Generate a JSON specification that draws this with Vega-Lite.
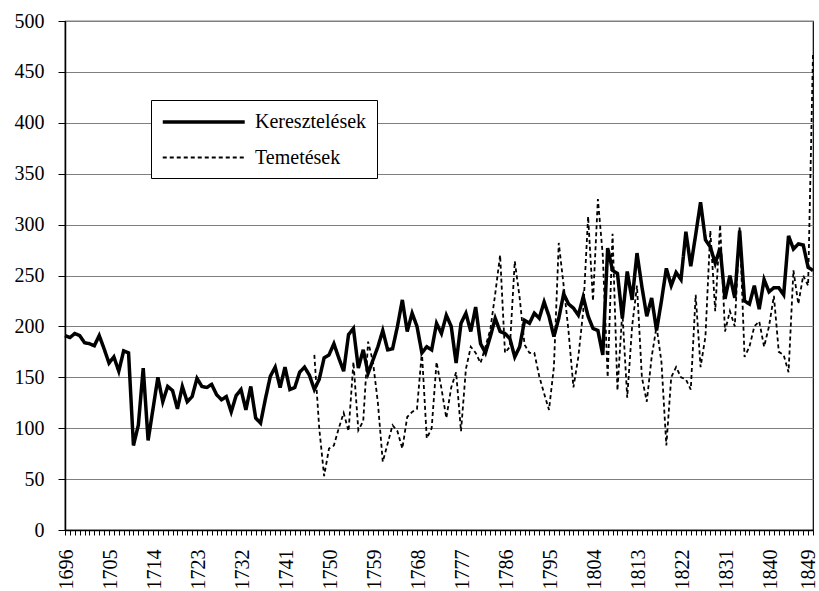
{
  "$schema": "https://vega.github.io/schema/vega-lite/v6.json",
  "width": 748,
  "height": 509,
  "autosize": {"type": "none"},
  "padding": {"left": 65, "top": 21, "right": 6, "bottom": 61},
  "background": "white",
  "config": {
    "view": {"stroke": "black", "strokeWidth": 1.2},
    "font": "Liberation Serif"
  },
  "data": {
    "values": [
      {"year":1696,"series":"Keresztelések","value":191},{"year":1697,"series":"Keresztelések","value":189},{"year":1698,"series":"Keresztelések","value":193},{"year":1699,"series":"Keresztelések","value":191},{"year":1700,"series":"Keresztelések","value":184},{"year":1701,"series":"Keresztelések","value":183},{"year":1702,"series":"Keresztelések","value":181},{"year":1703,"series":"Keresztelések","value":191},{"year":1704,"series":"Keresztelések","value":178},{"year":1705,"series":"Keresztelések","value":164},{"year":1706,"series":"Keresztelések","value":170},{"year":1707,"series":"Keresztelések","value":156},{"year":1708,"series":"Keresztelések","value":176},{"year":1709,"series":"Keresztelések","value":174},{"year":1710,"series":"Keresztelések","value":83},{"year":1711,"series":"Keresztelések","value":103},{"year":1712,"series":"Keresztelések","value":159},{"year":1713,"series":"Keresztelések","value":88},{"year":1714,"series":"Keresztelések","value":119},{"year":1715,"series":"Keresztelések","value":150},{"year":1716,"series":"Keresztelések","value":126},{"year":1717,"series":"Keresztelések","value":141},{"year":1718,"series":"Keresztelések","value":137},{"year":1719,"series":"Keresztelések","value":119},{"year":1720,"series":"Keresztelések","value":141},{"year":1721,"series":"Keresztelések","value":126},{"year":1722,"series":"Keresztelések","value":131},{"year":1723,"series":"Keresztelések","value":149},{"year":1724,"series":"Keresztelések","value":141},{"year":1725,"series":"Keresztelések","value":140},{"year":1726,"series":"Keresztelések","value":143},{"year":1727,"series":"Keresztelések","value":133},{"year":1728,"series":"Keresztelések","value":128},{"year":1729,"series":"Keresztelések","value":131},{"year":1730,"series":"Keresztelések","value":116},{"year":1731,"series":"Keresztelések","value":132},{"year":1732,"series":"Keresztelések","value":138},{"year":1733,"series":"Keresztelések","value":118},{"year":1734,"series":"Keresztelések","value":141},{"year":1735,"series":"Keresztelések","value":110},{"year":1736,"series":"Keresztelések","value":105},{"year":1737,"series":"Keresztelések","value":129},{"year":1738,"series":"Keresztelések","value":151},{"year":1739,"series":"Keresztelések","value":160},{"year":1740,"series":"Keresztelések","value":140},{"year":1741,"series":"Keresztelések","value":160},{"year":1742,"series":"Keresztelések","value":138},{"year":1743,"series":"Keresztelések","value":140},{"year":1744,"series":"Keresztelések","value":155},{"year":1745,"series":"Keresztelések","value":160},{"year":1746,"series":"Keresztelések","value":152},{"year":1747,"series":"Keresztelések","value":138},{"year":1748,"series":"Keresztelések","value":148},{"year":1749,"series":"Keresztelések","value":169},{"year":1750,"series":"Keresztelések","value":172},{"year":1751,"series":"Keresztelések","value":183},{"year":1752,"series":"Keresztelések","value":169},{"year":1753,"series":"Keresztelések","value":156},{"year":1754,"series":"Keresztelések","value":192},{"year":1755,"series":"Keresztelések","value":198},{"year":1756,"series":"Keresztelések","value":159},{"year":1757,"series":"Keresztelések","value":177},{"year":1758,"series":"Keresztelések","value":154},{"year":1759,"series":"Keresztelések","value":167},{"year":1760,"series":"Keresztelések","value":180},{"year":1761,"series":"Keresztelések","value":196},{"year":1762,"series":"Keresztelések","value":177},{"year":1763,"series":"Keresztelések","value":178},{"year":1764,"series":"Keresztelések","value":200},{"year":1765,"series":"Keresztelések","value":226},{"year":1766,"series":"Keresztelések","value":195},{"year":1767,"series":"Keresztelések","value":213},{"year":1768,"series":"Keresztelések","value":200},{"year":1769,"series":"Keresztelések","value":174},{"year":1770,"series":"Keresztelések","value":180},{"year":1771,"series":"Keresztelések","value":177},{"year":1772,"series":"Keresztelések","value":203},{"year":1773,"series":"Keresztelések","value":193},{"year":1774,"series":"Keresztelések","value":211},{"year":1775,"series":"Keresztelések","value":200},{"year":1776,"series":"Keresztelések","value":164},{"year":1777,"series":"Keresztelések","value":203},{"year":1778,"series":"Keresztelések","value":213},{"year":1779,"series":"Keresztelések","value":195},{"year":1780,"series":"Keresztelések","value":219},{"year":1781,"series":"Keresztelések","value":183},{"year":1782,"series":"Keresztelések","value":174},{"year":1783,"series":"Keresztelések","value":190},{"year":1784,"series":"Keresztelések","value":208},{"year":1785,"series":"Keresztelések","value":195},{"year":1786,"series":"Keresztelések","value":193},{"year":1787,"series":"Keresztelések","value":188},{"year":1788,"series":"Keresztelések","value":170},{"year":1789,"series":"Keresztelések","value":180},{"year":1790,"series":"Keresztelések","value":206},{"year":1791,"series":"Keresztelések","value":203},{"year":1792,"series":"Keresztelések","value":213},{"year":1793,"series":"Keresztelések","value":208},{"year":1794,"series":"Keresztelések","value":224},{"year":1795,"series":"Keresztelések","value":210},{"year":1796,"series":"Keresztelések","value":190},{"year":1797,"series":"Keresztelések","value":208},{"year":1798,"series":"Keresztelések","value":232},{"year":1799,"series":"Keresztelések","value":222},{"year":1800,"series":"Keresztelések","value":218},{"year":1801,"series":"Keresztelések","value":211},{"year":1802,"series":"Keresztelések","value":229},{"year":1803,"series":"Keresztelések","value":210},{"year":1804,"series":"Keresztelések","value":198},{"year":1805,"series":"Keresztelések","value":196},{"year":1806,"series":"Keresztelések","value":172},{"year":1807,"series":"Keresztelések","value":277},{"year":1808,"series":"Keresztelések","value":255},{"year":1809,"series":"Keresztelések","value":252},{"year":1810,"series":"Keresztelések","value":208},{"year":1811,"series":"Keresztelések","value":254},{"year":1812,"series":"Keresztelések","value":226},{"year":1813,"series":"Keresztelések","value":272},{"year":1814,"series":"Keresztelések","value":239},{"year":1815,"series":"Keresztelések","value":210},{"year":1816,"series":"Keresztelések","value":228},{"year":1817,"series":"Keresztelések","value":196},{"year":1818,"series":"Keresztelések","value":225},{"year":1819,"series":"Keresztelések","value":257},{"year":1820,"series":"Keresztelések","value":240},{"year":1821,"series":"Keresztelések","value":253},{"year":1822,"series":"Keresztelések","value":246},{"year":1823,"series":"Keresztelések","value":293},{"year":1824,"series":"Keresztelések","value":259},{"year":1825,"series":"Keresztelések","value":290},{"year":1826,"series":"Keresztelések","value":322},{"year":1827,"series":"Keresztelések","value":285},{"year":1828,"series":"Keresztelések","value":278},{"year":1829,"series":"Keresztelések","value":262},{"year":1830,"series":"Keresztelések","value":277},{"year":1831,"series":"Keresztelések","value":227},{"year":1832,"series":"Keresztelések","value":250},{"year":1833,"series":"Keresztelések","value":228},{"year":1834,"series":"Keresztelések","value":294},{"year":1835,"series":"Keresztelések","value":225},{"year":1836,"series":"Keresztelések","value":222},{"year":1837,"series":"Keresztelések","value":240},{"year":1838,"series":"Keresztelések","value":217},{"year":1839,"series":"Keresztelések","value":246},{"year":1840,"series":"Keresztelések","value":234},{"year":1841,"series":"Keresztelések","value":238},{"year":1842,"series":"Keresztelések","value":238},{"year":1843,"series":"Keresztelések","value":231},{"year":1844,"series":"Keresztelések","value":289},{"year":1845,"series":"Keresztelések","value":276},{"year":1846,"series":"Keresztelések","value":281},{"year":1847,"series":"Keresztelések","value":280},{"year":1848,"series":"Keresztelések","value":258},{"year":1849,"series":"Keresztelések","value":255},
      {"year":1747,"series":"Temetések","value":172},{"year":1748,"series":"Temetések","value":100},{"year":1749,"series":"Temetések","value":53},{"year":1750,"series":"Temetések","value":80},{"year":1751,"series":"Temetések","value":83},{"year":1752,"series":"Temetések","value":100},{"year":1753,"series":"Temetések","value":115},{"year":1754,"series":"Temetések","value":97},{"year":1755,"series":"Temetések","value":165},{"year":1756,"series":"Temetések","value":98},{"year":1757,"series":"Temetések","value":107},{"year":1758,"series":"Temetések","value":185},{"year":1759,"series":"Temetések","value":165},{"year":1760,"series":"Temetések","value":125},{"year":1761,"series":"Temetések","value":67},{"year":1762,"series":"Temetések","value":85},{"year":1763,"series":"Temetések","value":103},{"year":1764,"series":"Temetések","value":97},{"year":1765,"series":"Temetések","value":80},{"year":1766,"series":"Temetések","value":111},{"year":1767,"series":"Temetések","value":116},{"year":1768,"series":"Temetések","value":119},{"year":1769,"series":"Temetések","value":175},{"year":1770,"series":"Temetések","value":90},{"year":1771,"series":"Temetések","value":100},{"year":1772,"series":"Temetések","value":165},{"year":1773,"series":"Temetések","value":139},{"year":1774,"series":"Temetések","value":110},{"year":1775,"series":"Temetések","value":140},{"year":1776,"series":"Temetések","value":155},{"year":1777,"series":"Temetések","value":97},{"year":1778,"series":"Temetések","value":158},{"year":1779,"series":"Temetések","value":180},{"year":1780,"series":"Temetések","value":174},{"year":1781,"series":"Temetések","value":164},{"year":1782,"series":"Temetések","value":180},{"year":1783,"series":"Temetések","value":197},{"year":1784,"series":"Temetések","value":232},{"year":1785,"series":"Temetések","value":270},{"year":1786,"series":"Temetések","value":174},{"year":1787,"series":"Temetések","value":180},{"year":1788,"series":"Temetések","value":264},{"year":1789,"series":"Temetések","value":228},{"year":1790,"series":"Temetések","value":182},{"year":1791,"series":"Temetések","value":174},{"year":1792,"series":"Temetések","value":174},{"year":1793,"series":"Temetések","value":151},{"year":1794,"series":"Temetések","value":134},{"year":1795,"series":"Temetések","value":118},{"year":1796,"series":"Temetések","value":160},{"year":1797,"series":"Temetések","value":282},{"year":1798,"series":"Temetések","value":240},{"year":1799,"series":"Temetések","value":195},{"year":1800,"series":"Temetések","value":140},{"year":1801,"series":"Temetések","value":170},{"year":1802,"series":"Temetések","value":215},{"year":1803,"series":"Temetések","value":308},{"year":1804,"series":"Temetések","value":225},{"year":1805,"series":"Temetések","value":325},{"year":1806,"series":"Temetések","value":270},{"year":1807,"series":"Temetések","value":150},{"year":1808,"series":"Temetések","value":291},{"year":1809,"series":"Temetések","value":137},{"year":1810,"series":"Temetések","value":215},{"year":1811,"series":"Temetések","value":130},{"year":1812,"series":"Temetések","value":200},{"year":1813,"series":"Temetések","value":240},{"year":1814,"series":"Temetések","value":150},{"year":1815,"series":"Temetések","value":126},{"year":1816,"series":"Temetések","value":170},{"year":1817,"series":"Temetések","value":200},{"year":1818,"series":"Temetések","value":165},{"year":1819,"series":"Temetések","value":83},{"year":1820,"series":"Temetések","value":150},{"year":1821,"series":"Temetések","value":160},{"year":1822,"series":"Temetések","value":150},{"year":1823,"series":"Temetések","value":148},{"year":1824,"series":"Temetések","value":138},{"year":1825,"series":"Temetések","value":231},{"year":1826,"series":"Temetések","value":160},{"year":1827,"series":"Temetések","value":190},{"year":1828,"series":"Temetések","value":294},{"year":1829,"series":"Temetések","value":215},{"year":1830,"series":"Temetések","value":300},{"year":1831,"series":"Temetések","value":195},{"year":1832,"series":"Temetések","value":215},{"year":1833,"series":"Temetések","value":200},{"year":1834,"series":"Temetések","value":298},{"year":1835,"series":"Temetések","value":170},{"year":1836,"series":"Temetések","value":180},{"year":1837,"series":"Temetések","value":200},{"year":1838,"series":"Temetések","value":205},{"year":1839,"series":"Temetések","value":180},{"year":1840,"series":"Temetések","value":200},{"year":1841,"series":"Temetések","value":230},{"year":1842,"series":"Temetések","value":175},{"year":1843,"series":"Temetések","value":172},{"year":1844,"series":"Temetések","value":155},{"year":1845,"series":"Temetések","value":255},{"year":1846,"series":"Temetések","value":222},{"year":1847,"series":"Temetések","value":250},{"year":1848,"series":"Temetések","value":240},{"year":1849,"series":"Temetések","value":468}
    ]
  },
  "mark": {"type": "line", "color": "black", "strokeCap": "butt", "strokeJoin": "miter"},
  "encoding": {
    "x": {
      "field": "year", "type": "quantitative",
      "scale": {"domain": [1696, 1849], "nice": false, "zero": false},
      "axis": {
        "title": null,
        "values": [1696,1697,1698,1699,1700,1701,1702,1703,1704,1705,1706,1707,1708,1709,1710,1711,1712,1713,1714,1715,1716,1717,1718,1719,1720,1721,1722,1723,1724,1725,1726,1727,1728,1729,1730,1731,1732,1733,1734,1735,1736,1737,1738,1739,1740,1741,1742,1743,1744,1745,1746,1747,1748,1749,1750,1751,1752,1753,1754,1755,1756,1757,1758,1759,1760,1761,1762,1763,1764,1765,1766,1767,1768,1769,1770,1771,1772,1773,1774,1775,1776,1777,1778,1779,1780,1781,1782,1783,1784,1785,1786,1787,1788,1789,1790,1791,1792,1793,1794,1795,1796,1797,1798,1799,1800,1801,1802,1803,1804,1805,1806,1807,1808,1809,1810,1811,1812,1813,1814,1815,1816,1817,1818,1819,1820,1821,1822,1823,1824,1825,1826,1827,1828,1829,1830,1831,1832,1833,1834,1835,1836,1837,1838,1839,1840,1841,1842,1843,1844,1845,1846,1847,1848,1849],
        "labelExpr": "(datum.value - 1696) % 9 === 0 ? '' + datum.value : ''",
        "labelAngle": -90,
        "labelFont": "Liberation Serif",
        "labelFontSize": 20,
        "labelColor": "black",
        "labelPadding": 14,
        "labelOffset": {"condition": {"test": "datum.value === 1849", "value": -5}, "value": 1},
        "labelOverlap": false,
        "labelFlush": false,
        "labelBound": false,
        "grid": false,
        "domainColor": "black",
        "domainWidth": 1.5,
        "tickColor": "black",
        "tickSize": 5,
        "tickWidth": 1
      }
    },
    "y": {
      "field": "value", "type": "quantitative",
      "scale": {"domain": [0, 500], "nice": false},
      "axis": {
        "title": null,
        "values": [0,50,100,150,200,250,300,350,400,450,500],
        "labelFont": "Liberation Serif",
        "labelFontSize": 20,
        "labelColor": "black",
        "labelPadding": 14,
        "labelFlush": false,
        "labelOverlap": false,
        "grid": true,
        "gridColor": "#7f7f7f",
        "gridWidth": 1,
        "domainColor": "black",
        "domainWidth": 1.5,
        "tickColor": "black",
        "tickSize": 7,
        "tickWidth": 1
      }
    },
    "strokeDash": {
      "field": "series", "type": "nominal",
      "scale": {"domain": ["Keresztelések", "Temetések"], "range": [[1, 0], [4, 3]]},
      "legend": {
        "title": null,
        "orient": "none",
        "legendX": 86,
        "legendY": 79,
        "padding": 10,
        "strokeColor": "black",
        "fillColor": "white",
        "symbolType": "M-1,0H7",
        "symbolSize": 420,
        "symbolStrokeColor": "black",
        "labelFont": "Liberation Serif",
        "labelFontSize": 20,
        "labelColor": "black",
        "labelOffset": 70,
        "rowPadding": 14
      }
    },
    "strokeWidth": {
      "field": "series", "type": "nominal",
      "scale": {"domain": ["Keresztelések", "Temetések"], "range": [3.5, 1.8]},
      "legend": {
        "title": null,
        "orient": "none",
        "legendX": 86,
        "legendY": 79,
        "padding": 10,
        "strokeColor": "black",
        "fillColor": "white",
        "symbolType": "M-1,0H7",
        "symbolSize": 420,
        "symbolStrokeColor": "black",
        "labelFont": "Liberation Serif",
        "labelFontSize": 20,
        "labelColor": "black",
        "labelOffset": 70,
        "rowPadding": 14
      }
    }
  }
}
